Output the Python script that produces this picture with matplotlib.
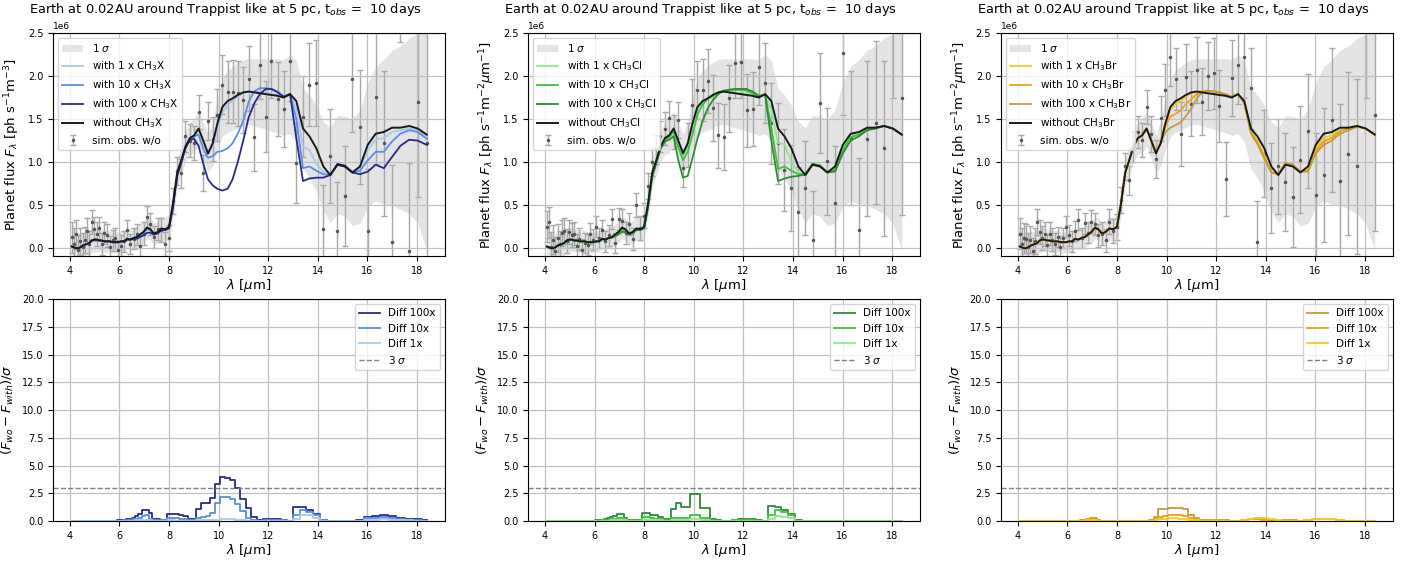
import numpy as np
import matplotlib.pyplot as plt

# wavelength grid [um]
wl = [4.08, 4.16, 4.25, 4.33, 4.42, 4.51, 4.60, 4.69, 4.78, 4.88, 4.98,
      5.08, 5.18, 5.28, 5.39, 5.50, 5.61, 5.72, 5.83, 5.95, 6.07, 6.19,
      6.31, 6.44, 6.57, 6.70, 6.83, 6.97, 7.11, 7.25, 7.39, 7.54, 7.69,
      7.85, 8.00, 8.16, 8.33, 8.49, 8.66, 8.84, 9.01, 9.19, 9.38, 9.57,
      9.76, 9.95, 10.15, 10.36, 10.56, 10.77, 10.99, 11.21, 11.43, 11.66, 11.90,
      12.13, 12.38, 12.62, 12.88, 13.13, 13.40, 13.66, 13.94, 14.22, 14.50, 14.79,
      15.09, 15.39, 15.70, 16.01, 16.33, 16.66, 16.99, 17.33, 17.68, 18.03, 18.39]

# flux without CH3X, in 1e6 ph s-1 m-2 um-1
wo = [0.02, 0.01, 0.00, 0.00, 0.01, 0.03, 0.04, 0.05, 0.06, 0.09, 0.10,
      0.10, 0.09, 0.09, 0.08, 0.08, 0.08, 0.07, 0.07, 0.07, 0.08, 0.08,
      0.11, 0.10, 0.12, 0.13, 0.16, 0.19, 0.24, 0.22, 0.17, 0.19, 0.23,
      0.22, 0.25, 0.52, 0.88, 1.02, 1.18, 1.28, 1.31, 1.39, 1.25, 1.10,
      1.22, 1.45, 1.64, 1.71, 1.74, 1.78, 1.81, 1.82, 1.81, 1.80, 1.79,
      1.78, 1.77, 1.75, 1.79, 1.71, 1.39, 1.30, 1.16, 0.95, 0.85, 0.97,
      0.95, 0.88, 0.95, 1.20, 1.33, 1.35, 1.40, 1.40, 1.42, 1.39, 1.32]

sigma = [0.18, 0.18, 0.17, 0.17, 0.16, 0.16, 0.15, 0.15, 0.15, 0.14, 0.14,
         0.14, 0.13, 0.13, 0.13, 0.13, 0.12, 0.12, 0.12, 0.12, 0.12, 0.12,
         0.12, 0.12, 0.12, 0.12, 0.12, 0.13, 0.13, 0.13, 0.13, 0.13, 0.14,
         0.14, 0.15, 0.15, 0.16, 0.17, 0.18, 0.19, 0.20, 0.20, 0.21, 0.22,
         0.26, 0.30, 0.34, 0.36, 0.37, 0.38, 0.38, 0.38, 0.39, 0.40, 0.41,
         0.42, 0.43, 0.44, 0.46, 0.47, 0.47, 0.48, 0.50, 0.52, 0.55, 0.57,
         0.58, 0.62, 0.66, 0.72, 0.78, 0.84, 0.90, 0.95, 1.02, 1.10, 1.35]

# spectra with CH3X (identical to wo below 6.3 um)
x1 = wo[:22] + [0.11, 0.10, 0.12, 0.13, 0.16, 0.19, 0.23, 0.22, 0.17, 0.19, 0.23,
                0.22, 0.25, 0.52, 0.88, 1.02, 1.18, 1.27, 1.30, 1.38, 1.23, 1.09,
                1.19, 1.40, 1.58, 1.66, 1.71, 1.76, 1.80, 1.82, 1.82, 1.81, 1.80,
                1.79, 1.78, 1.75, 1.79, 1.62, 1.18, 1.14, 0.98, 0.89, 0.85, 0.97,
                0.95, 0.88, 0.93, 1.14, 1.26, 1.28, 1.35, 1.37, 1.39, 1.37, 1.30]
x10 = wo[:22] + [0.11, 0.10, 0.12, 0.12, 0.15, 0.18, 0.22, 0.21, 0.17, 0.18, 0.22,
                 0.22, 0.24, 0.50, 0.86, 1.01, 1.17, 1.27, 1.30, 1.32, 1.15, 1.05,
                 1.07, 1.12, 1.13, 1.16, 1.22, 1.33, 1.48, 1.70, 1.82, 1.86, 1.86,
                 1.85, 1.82, 1.76, 1.79, 1.50, 0.93, 0.95, 0.90, 0.86, 0.85, 0.97,
                 0.95, 0.88, 0.90, 1.02, 1.12, 1.12, 1.24, 1.33, 1.37, 1.35, 1.27]
x100 = wo[:22] + [0.10, 0.10, 0.11, 0.11, 0.13, 0.15, 0.18, 0.18, 0.16, 0.17, 0.21,
                  0.21, 0.23, 0.48, 0.84, 0.99, 1.16, 1.26, 1.27, 1.19, 0.98, 0.80,
                  0.73, 0.69, 0.67, 0.69, 0.80, 1.00, 1.25, 1.52, 1.68, 1.79, 1.85,
                  1.85, 1.81, 1.76, 1.79, 1.28, 0.78, 0.81, 0.82, 0.82, 0.85, 0.98,
                  0.96, 0.88, 0.86, 0.89, 0.97, 0.93, 1.06, 1.19, 1.26, 1.25, 1.20]

c1 = wo[:22] + [0.11, 0.10, 0.12, 0.13, 0.16, 0.19, 0.23, 0.22, 0.17, 0.19, 0.23,
                0.22, 0.25, 0.51, 0.87, 1.01, 1.18, 1.27, 1.30, 1.38, 1.22, 1.07,
                1.18, 1.40, 1.60, 1.69, 1.73, 1.77, 1.80, 1.82, 1.82, 1.81, 1.80,
                1.79, 1.78, 1.75, 1.79, 1.60, 1.22, 1.21, 1.00, 0.88, 0.85, 0.97,
                0.95, 0.88, 0.93, 1.17, 1.31, 1.34, 1.39, 1.40, 1.42, 1.39, 1.32]
c10 = wo[:22] + [0.11, 0.10, 0.12, 0.13, 0.15, 0.18, 0.22, 0.21, 0.17, 0.18, 0.22,
                 0.22, 0.24, 0.50, 0.86, 1.00, 1.17, 1.26, 1.29, 1.36, 1.17, 1.02,
                 1.12, 1.32, 1.55, 1.67, 1.73, 1.77, 1.81, 1.83, 1.84, 1.84, 1.84,
                 1.83, 1.80, 1.76, 1.79, 1.40, 0.92, 0.95, 0.90, 0.86, 0.85, 0.98,
                 0.96, 0.88, 0.91, 1.14, 1.29, 1.32, 1.38, 1.40, 1.42, 1.39, 1.32]
c100 = wo[:22] + [0.11, 0.10, 0.12, 0.12, 0.14, 0.16, 0.19, 0.19, 0.16, 0.17, 0.21,
                  0.21, 0.23, 0.47, 0.83, 0.98, 1.15, 1.24, 1.26, 1.30, 1.02, 0.82,
                  0.84, 1.05, 1.27, 1.48, 1.62, 1.72, 1.79, 1.83, 1.84, 1.85, 1.85,
                  1.85, 1.82, 1.77, 1.78, 1.25, 0.78, 0.81, 0.83, 0.84, 0.86, 0.98,
                  0.96, 0.88, 0.89, 1.10, 1.25, 1.30, 1.37, 1.39, 1.42, 1.39, 1.32]

b1 = wo[:22] + [0.11, 0.10, 0.12, 0.13, 0.16, 0.19, 0.24, 0.22, 0.17, 0.19, 0.23,
                0.22, 0.25, 0.52, 0.88, 1.02, 1.18, 1.28, 1.31, 1.39, 1.25, 1.11,
                1.22, 1.44, 1.61, 1.67, 1.71, 1.76, 1.80, 1.82, 1.83, 1.83, 1.82,
                1.81, 1.78, 1.75, 1.79, 1.70, 1.36, 1.25, 1.08, 0.89, 0.86, 0.98,
                0.96, 0.89, 0.91, 1.16, 1.28, 1.31, 1.37, 1.39, 1.42, 1.39, 1.32]
b10 = wo[:22] + [0.11, 0.10, 0.12, 0.13, 0.16, 0.19, 0.23, 0.22, 0.17, 0.19, 0.23,
                 0.22, 0.25, 0.52, 0.88, 1.02, 1.18, 1.28, 1.31, 1.39, 1.25, 1.12,
                 1.22, 1.42, 1.53, 1.56, 1.60, 1.67, 1.73, 1.79, 1.82, 1.83, 1.82,
                 1.81, 1.78, 1.76, 1.79, 1.69, 1.35, 1.23, 1.06, 0.88, 0.86, 0.99,
                 0.97, 0.89, 0.90, 1.13, 1.24, 1.28, 1.36, 1.39, 1.42, 1.39, 1.32]
b100 = wo[:22] + [0.11, 0.10, 0.12, 0.13, 0.15, 0.18, 0.23, 0.21, 0.17, 0.19, 0.23,
                  0.22, 0.25, 0.52, 0.88, 1.02, 1.18, 1.28, 1.31, 1.39, 1.25, 1.12,
                  1.22, 1.35, 1.40, 1.43, 1.46, 1.53, 1.62, 1.74, 1.81, 1.83, 1.82,
                  1.81, 1.79, 1.76, 1.79, 1.68, 1.33, 1.21, 1.04, 0.88, 0.86, 0.99,
                  0.97, 0.89, 0.89, 1.10, 1.20, 1.25, 1.33, 1.37, 1.41, 1.39, 1.32]

# simulated observations (one noise draw per panel)
obs_x = [0.13, 0.05, 0.16, -0.02, 0.08, 0.02, 0.10, 0.20, 0.05, 0.30, 0.22,
         0.17, 0.23, 0.05, 0.18, 0.15, 0.02, 0.09, 0.12, -0.02, 0.03, 0.08,
         0.21, 0.05, 0.11, 0.16, 0.03, 0.17, 0.36, 0.28, 0.13, 0.22, 0.21,
         0.05, 0.12, 0.55, 0.90, 0.87, 1.30, 1.25, 1.22, 1.58, 0.87, 1.48,
         1.27, 1.55, 1.90, 1.82, 1.82, 1.80, 1.72, 1.97, 1.29, 2.13, 1.53,
         2.17, 1.73, 1.62, 2.17, 0.99, 1.53, 1.90, 1.92, 0.22, 1.07, 0.20,
         0.61, 1.97, 1.41, 0.20, 1.76, 1.22, 0.07, 3.35, -0.03, 1.70, 1.22]
obs_cl = [0.25, 0.30, 0.02, 0.10, -0.03, 0.12, 0.05, 0.18, 0.20, 0.08, 0.19,
          0.15, 0.17, 0.03, 0.11, -0.02, 0.06, 0.04, 0.17, 0.10, 0.25, 0.12,
          0.21, 0.08, 0.15, 0.34, 0.06, 0.34, 0.32, 0.18, 0.28, 0.11, 0.50,
          0.24, 0.38, 0.72, 1.00, 1.15, 1.30, 1.39, 1.51, 1.35, 1.49, 0.93,
          1.20, 1.66, 1.84, 1.84, 1.94, 1.63, 1.31, 1.29, 1.74, 2.15, 2.16,
          1.60, 1.62, 2.10, 1.92, 1.45, 1.22, 0.91, 0.70, 0.42, 0.70, 0.10,
          1.69, 1.01, 0.53, 2.27, 1.28, 0.21, 1.27, 1.46, 1.16, 2.85, 1.74]
obs_br = [0.17, 0.05, 0.12, 0.11, 0.02, 0.10, -0.03, 0.08, 0.30, 0.19, 0.12,
          0.17, 0.04, 0.17, 0.10, 0.05, 0.13, 0.02, 0.12, 0.25, 0.15, 0.08,
          0.20, 0.33, 0.12, 0.29, 0.18, 0.31, 0.28, 0.15, 0.17, 0.09, 0.31,
          0.20, 0.25, 0.56, 0.95, 0.79, 1.18, 1.35, 1.26, 1.64, 1.33, 1.04,
          1.51, 1.84, 2.22, 1.97, 1.33, 1.99, 1.68, 2.07, 1.70, 2.00, 2.03,
          1.65, 0.80, 1.98, 2.13, 2.22, 1.86, 0.07, 1.10, 0.70, 0.95, 0.77,
          0.60, 1.03, 1.36, 0.62, 0.85, 1.49, 0.78, 1.10, 0.95, 2.85, 1.55]

# (F_wo - F_with)/sigma
dx100 = [0, 0, 0, 0, 0, 0, 0, 0, 0, 0, 0.01,
         0.01, 0.01, 0.01, 0.01, 0.01, 0.01, 0.01, 0.02, 0.05, 0.07, 0.10,
         0.15, 0.20, 0.30, 0.45, 0.60, 1.00, 0.95, 0.75, 0.15, 0.15, 0.10,
         0.12, 0.60, 0.65, 0.60, 0.50, 0.45, 0.20, 0.20, 1.05, 1.60, 1.60,
         2.10, 3.30, 4.00, 3.90, 3.70, 3.00, 2.00, 1.20, 0.40, 0.05, 0.15,
         0.20, 0.15, 0.05, 0.02, 1.30, 1.25, 1.00, 0.65, 0.10, 0.02, 0.02,
         0.02, 0.02, 0.05, 0.40, 0.45, 0.50, 0.45, 0.30, 0.20, 0.15, 0.05]
dx10 = [0, 0, 0, 0, 0, 0, 0, 0, 0, 0, 0,
        0, 0, 0, 0, 0, 0, 0, 0.01, 0.02, 0.03, 0.05,
        0.07, 0.10, 0.15, 0.20, 0.30, 0.45, 0.50, 0.20, 0.05, 0.05, 0.05,
        0.05, 0.30, 0.30, 0.25, 0.20, 0.15, 0.10, 0.10, 0.30, 0.40, 0.45,
        0.70, 1.60, 2.20, 2.15, 1.95, 1.50, 0.90, 0.30, 0.05, 0.02, 0.05,
        0.10, 0.10, 0.05, 0.02, 0.50, 0.95, 0.85, 0.55, 0.05, 0.01, 0.01,
        0.01, 0.01, 0.02, 0.25, 0.30, 0.35, 0.30, 0.20, 0.10, 0.08, 0.03]
dx1 = [0, 0, 0, 0, 0, 0, 0, 0, 0, 0, 0,
       0, 0, 0, 0, 0, 0, 0, 0, 0.01, 0.01, 0.02,
       0.02, 0.03, 0.04, 0.05, 0.07, 0.10, 0.12, 0.05, 0.02, 0.02, 0.02,
       0.02, 0.05, 0.05, 0.04, 0.03, 0.03, 0.02, 0.02, 0.05, 0.05, 0.06,
       0.08, 0.12, 0.18, 0.18, 0.15, 0.10, 0.05, 0.02, 0.01, 0.01, 0.02,
       0.03, 0.03, 0.01, 0.01, 0.20, 0.55, 0.50, 0.30, 0.03, 0, 0,
       0, 0, 0.01, 0.10, 0.12, 0.15, 0.12, 0.08, 0.05, 0.03, 0.01]

dcl100 = [0, 0, 0, 0, 0, 0, 0, 0, 0, 0, 0,
          0, 0, 0, 0, 0, 0, 0, 0.01, 0.03, 0.05, 0.08,
          0.10, 0.15, 0.25, 0.35, 0.45, 0.60, 0.60, 0.30, 0.10, 0.10, 0.05,
          0.10, 0.70, 0.70, 0.50, 0.50, 0.40, 0.15, 0.15, 1.05, 1.65, 1.30,
          1.25, 2.40, 2.40, 1.20, 1.20, 0.15, 0.05, 0.02, 0.02, 0.10, 0.15,
          0.15, 0.15, 0.05, 0.01, 1.35, 1.30, 0.95, 0.65, 0.05, 0.02, 0.02,
          0.02, 0.02, 0.02, 0.02, 0.02, 0.02, 0.02, 0.02, 0.01, 0.01, 0.01]
dcl10 = [0, 0, 0, 0, 0, 0, 0, 0, 0, 0, 0,
         0, 0, 0, 0, 0, 0, 0, 0, 0.01, 0.02, 0.03,
         0.05, 0.07, 0.10, 0.15, 0.20, 0.30, 0.30, 0.15, 0.05, 0.05, 0.03,
         0.05, 0.35, 0.35, 0.25, 0.20, 0.15, 0.08, 0.08, 0.30, 0.30, 0.25,
         0.25, 0.55, 0.55, 0.25, 0.25, 0.05, 0.02, 0.01, 0.01, 0.05, 0.08,
         0.10, 0.08, 0.03, 0.01, 0.55, 0.95, 0.80, 0.55, 0.03, 0.01, 0.01,
         0.01, 0.01, 0.01, 0.01, 0.01, 0.01, 0.01, 0.01, 0.01, 0.01, 0.01]
dcl1 = [0, 0, 0, 0, 0, 0, 0, 0, 0, 0, 0,
        0, 0, 0, 0, 0, 0, 0, 0, 0, 0, 0.01,
        0.01, 0.02, 0.03, 0.05, 0.07, 0.10, 0.10, 0.05, 0.02, 0.02, 0.01,
        0.02, 0.10, 0.10, 0.08, 0.06, 0.05, 0.03, 0.03, 0.08, 0.08, 0.08,
        0.10, 0.20, 0.20, 0.10, 0.08, 0.02, 0.01, 0.01, 0.01, 0.02, 0.03,
        0.03, 0.03, 0.01, 0, 0.20, 0.45, 0.40, 0.30, 0.02, 0, 0,
        0, 0, 0, 0, 0, 0, 0, 0, 0, 0, 0]

dbr100 = [0, 0, 0, 0, 0, 0, 0, 0, 0, 0, 0,
          0, 0, 0, 0, 0, 0, 0, 0, 0, 0.01, 0.02,
          0.03, 0.04, 0.06, 0.10, 0.15, 0.25, 0.25, 0.10, 0.03, 0.02, 0.02,
          0.02, 0.03, 0.03, 0.02, 0.02, 0.02, 0.02, 0.02, 0.02, 0.05, 0.40,
          1.05, 1.05, 1.20, 1.20, 1.20, 1.10, 0.55, 0.30, 0.05, 0.05, 0.10,
          0.10, 0.05, 0.02, 0.02, 0.10, 0.20, 0.20, 0.15, 0.05, 0.02, 0.05,
          0.05, 0.02, 0.08, 0.20, 0.20, 0.20, 0.10, 0.03, 0.02, 0.02, 0.01]
dbr10 = [0, 0, 0, 0, 0, 0, 0, 0, 0, 0, 0,
         0, 0, 0, 0, 0, 0, 0, 0, 0, 0, 0.01,
         0.02, 0.03, 0.04, 0.06, 0.10, 0.15, 0.15, 0.06, 0.02, 0.01, 0.01,
         0.01, 0.01, 0.01, 0.01, 0.01, 0.01, 0.01, 0.01, 0.01, 0.03, 0.15,
         0.40, 0.45, 0.55, 0.55, 0.50, 0.45, 0.25, 0.15, 0.03, 0.03, 0.05,
         0.05, 0.03, 0.01, 0.01, 0.08, 0.15, 0.18, 0.12, 0.03, 0.01, 0.03,
         0.03, 0.01, 0.05, 0.15, 0.15, 0.15, 0.08, 0.02, 0.01, 0.01, 0]
dbr1 = [0, 0, 0, 0, 0, 0, 0, 0, 0, 0, 0,
        0, 0, 0, 0, 0, 0, 0, 0, 0, 0, 0,
        0.01, 0.01, 0.02, 0.03, 0.05, 0.08, 0.08, 0.03, 0.01, 0.01, 0.01,
        0.01, 0.01, 0.01, 0.01, 0.01, 0.01, 0.01, 0.01, 0.01, 0.02, 0.05,
        0.15, 0.20, 0.25, 0.25, 0.20, 0.15, 0.10, 0.05, 0.02, 0.02, 0.03,
        0.03, 0.02, 0.01, 0.01, 0.10, 0.22, 0.25, 0.25, 0.20, 0.05, 0.03,
        0.03, 0.02, 0.05, 0.15, 0.18, 0.18, 0.10, 0.03, 0.01, 0.01, 0]

title = 'Earth at 0.02AU around Trappist like at 5 pc, t$_{obs}$ =  10 days'
unit_a = r'Planet flux $F_\lambda$ [ph s$^{-1}$m$^{-3}$]'
unit_b = r'Planet flux $F_\lambda$ [ph s$^{-1}$m$^{-2}\mu$m$^{-1}$]'

panels = [
    dict(mol='CH$_3$X', ylab=unit_a, lines=[x1, x10, x100], obs=obs_x,
         diffs=[dx100, dx10, dx1], cols=['#a8c8ef', '#5b8ee6', '#262a8c']),
    dict(mol='CH$_3$Cl', ylab=unit_b, lines=[c1, c10, c100], obs=obs_cl,
         diffs=[dcl100, dcl10, dcl1], cols=['#90e890', '#3cc23c', '#2e8b35']),
    dict(mol='CH$_3$Br', ylab=unit_b, lines=[b1, b10, b100], obs=obs_br,
         diffs=[dbr100, dbr10, dbr1], cols=['#f5cd1a', '#e8a21a', '#c49a3c']),
]

lefts = [0.0375, 0.3737, 0.7084]
W = 0.2775
x = np.array(wl)
f0 = np.array(wo) * 1e6
sg = np.array(sigma) * 1e6

fig = plt.figure(figsize=(14.13, 5.61), dpi=100)

for left, p in zip(lefts, panels):
    ax = fig.add_axes([left, 0.5437, W, 0.3975])
    ax.fill_between(x, f0 - sg, f0 + sg, color='#e4e4e4', lw=0, label='1 $\\sigma$')
    for mult, arr, c in zip([1, 10, 100], p['lines'], p['cols']):
        ax.plot(x, np.array(arr) * 1e6, color=c, lw=1.3, label='with %d x %s' % (mult, p['mol']))
    ax.plot(x, f0, color='#1a1a1a', lw=1.4, label='without ' + p['mol'])
    ax.errorbar(x, np.array(p['obs']) * 1e6, yerr=sg, fmt='.', color='#555555', ecolor='#a8a8a8',
                elinewidth=1, capsize=2, ms=3, label='sim. obs. w/o', zorder=1.5)
    ax.set_xlim(3.32, 19.13)
    ax.set_ylim(-0.09e6, 2.5e6)
    ax.set_xticks([4, 6, 8, 10, 12, 14, 16, 18])
    ax.grid(True, color='#c0c0c0', lw=0.9)
    ax.tick_params(labelsize=7)
    ax.yaxis.get_offset_text().set_fontsize(6.5)
    ax.set_title(title, fontsize=9.4, x=0.44)
    ax.set_xlabel(r'$\lambda$ [$\mu$m]', fontsize=9.5, labelpad=1)
    ax.set_ylabel(p['ylab'], fontsize=9.5)
    ax.legend(loc='upper left', fontsize=7.5)

    ax2 = fig.add_axes([left, 0.0713, W, 0.3957])
    for lab, d, c in zip(['Diff 100x', 'Diff 10x', 'Diff 1x'], p['diffs'], p['cols'][::-1]):
        ax2.step(x, d, where='mid', color=c, lw=1.3, label=lab)
    ax2.axhline(3, ls='--', color='grey', lw=1, label='3 $\\sigma$')
    ax2.set_xlim(3.32, 19.13)
    ax2.set_ylim(0, 20)
    ax2.set_xticks([4, 6, 8, 10, 12, 14, 16, 18])
    ax2.grid(True, color='#c0c0c0', lw=0.9)
    ax2.tick_params(labelsize=7)
    ax2.set_xlabel(r'$\lambda$ [$\mu$m]', fontsize=9.5, labelpad=1)
    ax2.set_ylabel(r'$(F_{wo}-F_{with})/\sigma$', fontsize=9.5)
    ax2.legend(loc='upper right', fontsize=7.5)

fig.savefig('out.png', dpi=100)
